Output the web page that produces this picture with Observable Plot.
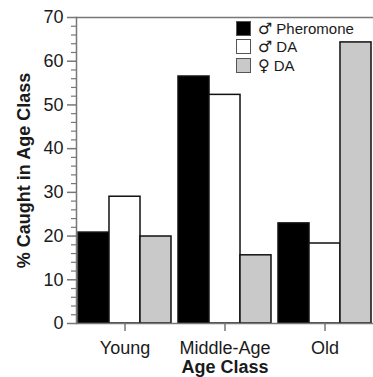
<!DOCTYPE html>
<html>
<head>
<meta charset="utf-8">
<script src="https://cdn.jsdelivr.net/npm/d3@7"></script>
<script src="https://cdn.jsdelivr.net/npm/@observablehq/plot@0.6"></script>
<style>
  body { margin: 0; background: white; }
  #wrap { position: relative; width: 373px; height: 377px; font-family: "Liberation Sans", Arial, sans-serif; }
  #wrap svg g[aria-label="y-axis label"] text, #wrap svg g[aria-label="x-axis label"] text { font-weight: bold; }
  .legend { position: absolute; left: 236px; top: 19px; font-size: 15px; color: #1a1a1a; }
  .legend .item { display: flex; align-items: center; height: 18.5px; white-space: nowrap; }
  .legend .sw { width: 13px; height: 13px; border: 1px solid #555; margin-right: 7px; box-sizing: content-box; flex: none; }
  .legend .sym { font-family: "DejaVu Sans", sans-serif; font-size: 16px; margin-right: 4px; }
</style>
</head>
<body>
<div id="wrap"></div>
<script>
const ageClasses = ["Young", "Middle-Age", "Old"];
const seriesSymbols = ["♂", "♂", "♀"];
const seriesLabels = ["Pheromone", "DA", "DA"];
const seriesNames = ["♂ Pheromone", "♂ DA", "♀ DA"];
const seriesColors = ["#000000", "#ffffff", "#c9c9c9"];
const pheromone = [20.8, 56.5, 22.9];
const maleDA = [29.0, 52.3, 18.3];
const femaleDA = [19.9, 15.6, 64.3];
const majorTicks = [0, 10, 20, 30, 40, 50, 60, 70];
const minorTicks = [2,4,6,8,12,14,16,18,22,24,26,28,32,34,36,38,42,44,46,48,52,54,56,58,62,64,66,68];

const seriesValues = [pheromone, maleDA, femaleDA];
const rows = [];
seriesNames.forEach((s, si) => ageClasses.forEach((a, ai) => rows.push({age: a, series: s, value: seriesValues[si][ai], si})));

const W = 373, H = 377, mL = 76, mR = 0, mT = 17, mB = 54;
const pIn = 0.075, pOut = 0.015;
const step = (W - mL - mR) / (ageClasses.length - pIn + 2 * pOut);
const bw3 = step * (1 - pIn) / 3;

const bars = seriesNames.map((s, si) =>
  Plot.barY(rows.filter(d => d.si === si), {
    x: "age", y: "value", fill: "series", stroke: "#111", strokeWidth: 1.5,
    insetLeft: si * bw3, insetRight: (2 - si) * bw3
  })
);

const chart = Plot.plot({
  width: W, height: H, marginLeft: mL, marginRight: mR, marginTop: mT, marginBottom: mB,
  style: {fontFamily: "'Liberation Sans', Arial, sans-serif", fontSize: "18px", color: "#1a1a1a", background: "white"},
  x: {domain: ageClasses, paddingInner: pIn, paddingOuter: pOut},
  y: {domain: [0, 70]},
  color: {domain: seriesNames, range: seriesColors},
  marks: [
    ...bars,
    Plot.ruleY([0, 70], {stroke: "#777", strokeWidth: 1.5}),
    Plot.frame({anchor: "left", stroke: "#777", strokeWidth: 1.5}),
    Plot.axisY({ticks: minorTicks, tickSize: 5, tickFormat: () => "", stroke: "#777", strokeWidth: 1.2, label: null}),
    Plot.axisY({ticks: majorTicks, tickSize: 9, tickPadding: 4, stroke: "#777", strokeWidth: 1.5, fontSize: 18,
      label: "% Caught in Age Class", labelAnchor: "center", labelOffset: 59, labelArrow: "none"}),
    Plot.axisX({tickSize: 8, tickPadding: 10, stroke: "#777", strokeWidth: 1.5, fontSize: 18,
      label: "Age Class", labelAnchor: "center", labelOffset: 49, labelArrow: "none"})
  ]
});

const wrap = document.getElementById("wrap");
wrap.appendChild(chart);
const legend = document.createElement("div");
legend.className = "legend";
seriesNames.forEach((s, i) => {
  const item = document.createElement("div");
  item.className = "item";
  const sw = document.createElement("span");
  sw.className = "sw";
  sw.style.background = seriesColors[i];
  const sym = document.createElement("span");
  sym.className = "sym";
  sym.textContent = seriesSymbols[i];
  const t = document.createElement("span");
  t.textContent = seriesLabels[i];
  item.appendChild(sw); item.appendChild(sym); item.appendChild(t);
  legend.appendChild(item);
});
wrap.appendChild(legend);
</script>
</body>
</html>
